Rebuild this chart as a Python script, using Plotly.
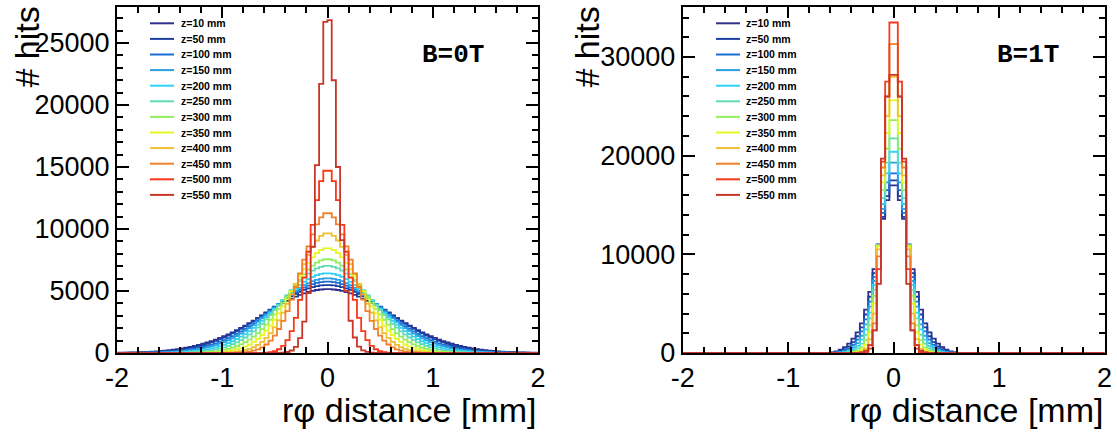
import numpy as np
import plotly.graph_objects as go

names = ["z=10 mm", "z=50 mm", "z=100 mm", "z=150 mm", "z=200 mm", "z=250 mm",
         "z=300 mm", "z=350 mm", "z=400 mm", "z=450 mm", "z=500 mm", "z=550 mm"]
colors = ["#2e2f8e", "#1b3ea0", "#1a6fd0", "#2aa0e2", "#2ed2f6", "#5fdcb6",
          "#92ee5e", "#e6f61e", "#f0be30", "#f0822a", "#f83818", "#c8362a"]

# 100 bins between -2 and 2 mm
edges = np.linspace(-2.0, 2.0, 101)
x_tickvals = [-2, -1, 0, 1, 2]
x_ticktext = ["-2", "-1", "0", "1", "2"]

# ---------------- B = 0 T ----------------
b0_10 = [22,28,34,42,52,63,77,93,112,135,161,191,226,267,313,365,425,490,570,650,745,845,960,1080,1215,1355,1510,1670,1845,2025,2210,2405,2605,2810,3020,3230,3435,3640,3840,4030,4215,4385,4545,4690,4815,4920,5010,5080,5120,5150,
         5150,5120,5080,5010,4920,4815,4690,4545,4385,4215,4030,3840,3640,3435,3230,3020,2810,2605,2405,2210,2025,1845,1670,1510,1355,1215,1080,960,845,745,650,570,490,425,365,313,267,226,191,161,135,112,93,77,63,52,42,34,28,22]
b0_50 = [13,17,21,27,33,42,52,64,79,97,118,142,172,206,246,293,346,407,476,555,643,741,851,973,1105,1250,1405,1575,1755,1945,2150,2360,2580,2805,3035,3265,3500,3730,3955,4175,4390,4585,4770,4940,5090,5215,5320,5400,5450,5480,
         5480,5450,5400,5320,5215,5090,4940,4770,4585,4390,4175,3955,3730,3500,3265,3035,2805,2580,2360,2150,1945,1755,1575,1405,1250,1105,973,851,741,643,555,476,407,346,293,246,206,172,142,118,97,79,64,52,42,33,27,21,17,13]
b0_100 = [5,7,9,12,16,20,26,34,43,54,68,84,105,129,159,194,235,284,341,406,482,569,667,778,903,1040,1195,1360,1540,1735,1945,2170,2405,2650,2900,3160,3420,3685,3945,4200,4450,4680,4900,5100,5275,5430,5555,5650,5710,5750,
          5750,5710,5650,5555,5430,5275,5100,4900,4680,4450,4200,3945,3685,3420,3160,2900,2650,2405,2170,1945,1735,1540,1360,1195,1040,903,778,667,569,482,406,341,284,235,194,159,129,105,84,68,54,43,34,26,20,16,12,9,7,5]
b0_150 = [2,3,4,6,8,11,14,19,24,32,41,52,67,85,107,134,166,205,252,307,372,447,535,636,751,882,1030,1190,1370,1570,1785,2015,2260,2520,2790,3070,3360,3650,3945,4230,4510,4775,5030,5260,5465,5640,5790,5900,5975,6020,
          6020,5975,5900,5790,5640,5465,5260,5030,4775,4510,4230,3945,3650,3360,3070,2790,2520,2260,2015,1785,1570,1370,1190,1030,882,751,636,535,447,372,307,252,205,166,134,107,85,67,52,41,32,24,19,14,11,8,6,4,3,2]
b0_200 = [0,1,1,2,2,3,5,7,10,13,18,24,32,42,55,71,92,119,151,191,239,298,369,452,550,665,797,948,1120,1315,1530,1765,2020,2295,2595,2905,3230,3560,3900,4240,4570,4895,5200,5480,5735,5955,6140,6280,6375,6430,
          6430,6375,6280,6140,5955,5735,5480,5200,4895,4570,4240,3900,3560,3230,2905,2595,2295,2020,1765,1530,1315,1120,948,797,665,550,452,369,298,239,191,151,119,92,71,55,42,32,24,18,13,10,7,5,3,2,2,1,1,0]
b0_250 = [0,0,0,0,0,0,1,2,3,4,6,8,12,17,23,32,43,58,78,103,136,176,227,290,368,461,574,707,863,1045,1250,1485,1750,2040,2360,2705,3070,3455,3855,4260,4660,5060,5440,5795,6120,6405,6640,6825,6950,7020,
          7020,6950,6825,6640,6405,6120,5795,5440,5060,4660,4260,3855,3455,3070,2705,2360,2040,1750,1485,1250,1045,863,707,574,461,368,290,227,176,136,103,78,58,43,32,23,17,12,8,6,4,3,2,1,0,0,0,0,0,0]
b0_300 = [0,0,0,0,0,0,0,0,0,0,1,2,3,4,6,9,13,19,27,38,54,74,102,139,187,249,326,424,545,692,869,1080,1325,1605,1925,2285,2680,3110,3560,4040,4525,5010,5490,5945,6365,6735,7050,7295,7465,7560,
          7560,7465,7295,7050,6735,6365,5945,5490,5010,4525,4040,3560,3110,2680,2285,1925,1605,1325,1080,869,692,545,424,326,249,187,139,102,74,54,38,27,19,13,9,6,4,3,2,1,0,0,0,0,0,0,0,0,0,0]
b0_350 = [0,0,0,0,0,0,0,0,0,0,0,0,0,0,0,1,2,4,6,9,14,22,33,49,71,103,146,205,283,385,517,683,890,1140,1445,1800,2210,2680,3195,3755,4350,4965,5585,6190,6760,7275,7715,8060,8300,8440,
          8440,8300,8060,7715,7275,6760,6190,5585,4965,4350,3755,3195,2680,2210,1800,1445,1140,890,683,517,385,283,205,146,103,71,49,33,22,14,9,6,4,2,1,0,0,0,0,0,0,0,0,0,0,0,0,0,0,0]
b0_400 = [0,0,0,0,0,0,0,0,0,0,0,0,0,0,0,0,0,0,0,1,2,3,6,10,16,26,42,66,102,154,228,332,473,661,905,1215,1605,2070,2625,3260,3965,4735,5545,6365,7165,7905,8555,9075,9440,9650,
          9650,9440,9075,8555,7905,7165,6365,5545,4735,3965,3260,2625,2070,1605,1215,905,661,473,332,228,154,102,66,42,26,16,10,6,3,2,1,0,0,0,0,0,0,0,0,0,0,0,0,0,0,0,0,0,0,0]
b0_450 = [0,0,0,0,0,0,0,0,0,0,0,0,0,0,0,0,0,0,0,0,0,0,0,1,2,4,7,13,24,42,71,118,190,300,459,684,993,1405,1935,2595,3385,4305,5325,6415,7530,8605,9575,10370,10940,11270,
          11270,10940,10370,9575,8605,7530,6415,5325,4305,3385,2595,1935,1405,993,684,459,300,190,118,71,42,24,13,7,4,2,1,0,0,0,0,0,0,0,0,0,0,0,0,0,0,0,0,0,0,0,0,0,0,0]
b0_500 = [0,0,0,0,0,0,0,0,0,0,0,0,0,0,0,0,0,0,0,0,0,0,0,0,0,0,0,0,0,0,0,1,2,5,13,31,70,150,304,580,1045,1770,2835,4280,6085,8165,10335,12325,13860,14700,
          14700,13860,12325,10335,8165,6085,4280,2835,1770,1045,580,304,150,70,31,13,5,2,1,0,0,0,0,0,0,0,0,0,0,0,0,0,0,0,0,0,0,0,0,0,0,0,0,0,0,0,0,0,0,0]
b0_550 = [0,0,0,0,0,0,0,0,0,0,0,0,0,0,0,0,0,0,0,0,0,0,0,0,0,0,0,0,0,0,0,0,0,0,0,0,1,3,10,30,80,200,500,1200,2530,4840,8570,15160,21700,26700,
          26850,22000,15000,9100,5000,2600,1250,520,210,85,30,10,3,1,0,0,0,0,0,0,0,0,0,0,0,0,0,0,0,0,0,0,0,0,0,0,0,0,0,0,0,0,0,0,0,0,0,0,0,0]

# ---------------- B = 1 T ----------------
Z35 = [0,0,0,0,0,0,0,0,0,0,0,0,0,0,0,0,0,0,0,0,0,0,0,0,0,0,0,0,0,0,0,0,0,0,0]
b1_10 = Z35 + [60,160,330,600,950,1450,2100,3000,4400,6200,8500,11000,13600,15500,17000] + [17000,15500,13600,11000,8500,6200,4400,3000,2100,1450,950,600,330,160,60] + Z35
b1_50 = Z35 + [40,100,210,400,680,1100,1700,2600,3900,5700,8100,10900,13800,15900,17500] + [17500,15900,13800,10900,8100,5700,3900,2600,1700,1100,680,400,210,100,40] + Z35
b1_100 = Z35 + [20,55,130,260,480,820,1350,2200,3400,5200,7700,10900,14200,16500,18200] + [18200,16500,14200,10900,7700,5200,3400,2200,1350,820,480,260,130,55,20] + Z35
b1_150 = Z35 + [8,25,70,160,310,580,1000,1750,2900,4700,7300,10900,14600,17300,19300] + [19300,17300,14600,10900,7300,4700,2900,1750,1000,580,310,160,70,25,8] + Z35
b1_200 = Z35 + [3,10,30,80,180,370,720,1350,2400,4100,6900,10900,15100,18200,20400] + [20400,18200,15100,10900,6900,4100,2400,1350,720,370,180,80,30,10,3] + Z35
b1_250 = Z35 + [0,5,15,40,95,220,470,950,1850,3500,6400,10900,15700,19300,21750] + [21750,19300,15700,10900,6400,3500,1850,950,470,220,95,40,15,5,0] + Z35
b1_300 = Z35 + [0,0,5,15,40,100,250,580,1300,2800,5800,10900,16500,20700,23600] + [23600,20700,16500,10900,5800,2800,1300,580,250,100,40,15,5,0,0] + Z35
b1_350 = Z35 + [0,0,0,4,12,40,120,330,850,2100,5000,10800,17300,22300,25600] + [25600,22300,17300,10800,5000,2100,850,330,120,40,12,4,0,0,0] + Z35
b1_400 = Z35 + [0,0,0,0,3,10,40,140,450,1400,4000,10500,18000,24000,28000] + [28000,24000,18000,10500,4000,1400,450,140,40,10,3,0,0,0,0] + Z35
b1_450 = Z35 + [0,0,0,0,0,3,12,50,200,800,3000,9800,18800,26000,31300] + [31300,26000,18800,9800,3000,800,200,50,12,3,0,0,0,0,0] + Z35
b1_500 = Z35 + [0,0,0,0,0,0,5,20,90,450,2300,8500,19400,27500,33500] + [33500,27500,19400,8500,2300,450,90,20,5,0,0,0,0,0,0] + Z35
b1_550 = Z35 + [0,0,0,0,0,5,20,70,250,800,2300,7000,19700,26000,28200] + [28200,26000,19700,7000,2300,800,250,70,20,5,0,0,0,0,0] + Z35

b0_series = [b0_10, b0_50, b0_100, b0_150, b0_200, b0_250, b0_300, b0_350, b0_400, b0_450, b0_500, b0_550]
b1_series = [b1_10, b1_50, b1_100, b1_150, b1_200, b1_250, b1_300, b1_350, b1_400, b1_450, b1_500, b1_550]

W, H = 1117, 435
def px(x):
    return x / W
def py(y):
    return (H - y) / H

fig = go.Figure()
for series, xa, ya in ((b0_series, "x", "y"), (b1_series, "x2", "y2")):
    for vals, col, nm in zip(series, colors, names):
        fig.add_trace(go.Scatter(
            x=edges, y=list(vals) + [vals[-1]], mode="lines", name=nm,
            line=dict(color=col, width=1.8, shape="hv"),
            xaxis=xa, yaxis=ya, showlegend=False, hoverinfo="skip"))

tickfont = dict(family="Liberation Sans, Arial, sans-serif", size=27, color="black")
common = dict(showline=True, linecolor="black", linewidth=2, mirror="ticks",
              ticks="inside", tickcolor="black", tickwidth=1.5, automargin=False,
              showgrid=False, zeroline=False, tickfont=tickfont, fixedrange=True)
xcommon = dict(common, range=[-2, 2], tickmode="array", tickvals=x_tickvals, ticktext=x_ticktext,
               ticklen=11,
               minor=dict(tickmode="linear", tick0=-2, dtick=0.2, ticklen=6, ticks="inside",
                          tickcolor="black", tickwidth=1.5, showgrid=False))
ydom = [py(353), py(6.7)]
fig.update_layout(
    width=W, height=H, margin=dict(l=0, r=0, t=0, b=0, autoexpand=False),
    paper_bgcolor="white", plot_bgcolor="white", showlegend=False,
    xaxis=dict(xcommon, domain=[px(117), px(538)], anchor="y"),
    yaxis=dict(common, domain=ydom, anchor="x", range=[0, 27930], tickmode="linear", tick0=0,
               dtick=5000, tickformat="d", ticklen=12,
               minor=dict(tickmode="linear", tick0=0, dtick=1000, ticklen=6, ticks="inside",
                          tickcolor="black", tickwidth=1.5, showgrid=False)),
    xaxis2=dict(xcommon, domain=[px(682.7), px(1104.5)], anchor="y2"),
    yaxis2=dict(common, domain=ydom, anchor="x2", range=[0, 35100], tickmode="linear", tick0=0,
                dtick=10000, tickformat="d", ticklen=12,
                minor=dict(tickmode="linear", tick0=0, dtick=2000, ticklen=6, ticks="inside",
                           tickcolor="black", tickwidth=1.5, showgrid=False)),
)

titlefont = dict(family="Liberation Sans, Arial, sans-serif", size=34, color="black")
annotations = []
shapes = []
for xl, yl, xr in ((27, 5, 538), (587, 5, 1104.5)):
    annotations.append(dict(text="# hits", x=px(xl), y=py(yl), xref="paper", yref="paper",
                            xanchor="center", yanchor="top", textangle=-90, showarrow=False,
                            font=titlefont))
    annotations.append(dict(text="rφ distance [mm]", x=px(xr), y=py(410), xref="paper", yref="paper",
                            xanchor="right", yanchor="middle", showarrow=False, font=titlefont))

bfont = dict(family="Liberation Mono, Courier New, monospace", size=26, color="black", weight="bold")
annotations.append(dict(text="B=0T", x=px(453), y=py(55), xref="paper", yref="paper",
                        xanchor="center", yanchor="middle", showarrow=False, font=bfont))
annotations.append(dict(text="B=1T", x=px(1028), y=py(55), xref="paper", yref="paper",
                        xanchor="center", yanchor="middle", showarrow=False, font=bfont))

legfont = dict(family="Liberation Sans, Arial, sans-serif", size=10.5, color="black", weight="bold")
for lx0, lx1, tx in ((150, 174, 179), (716, 740, 744)):
    for i, (nm, col) in enumerate(zip(names, colors)):
        yy = 23.3 + 15.6 * i
        shapes.append(dict(type="line", xref="paper", yref="paper", x0=px(lx0), x1=px(lx1),
                           y0=py(yy), y1=py(yy), line=dict(color=col, width=2)))
        annotations.append(dict(text=nm, x=px(tx), y=py(yy), xref="paper", yref="paper",
                                xanchor="left", yanchor="middle", showarrow=False, font=legfont))

fig.update_layout(annotations=annotations, shapes=shapes)
fig.write_html("out.html")
